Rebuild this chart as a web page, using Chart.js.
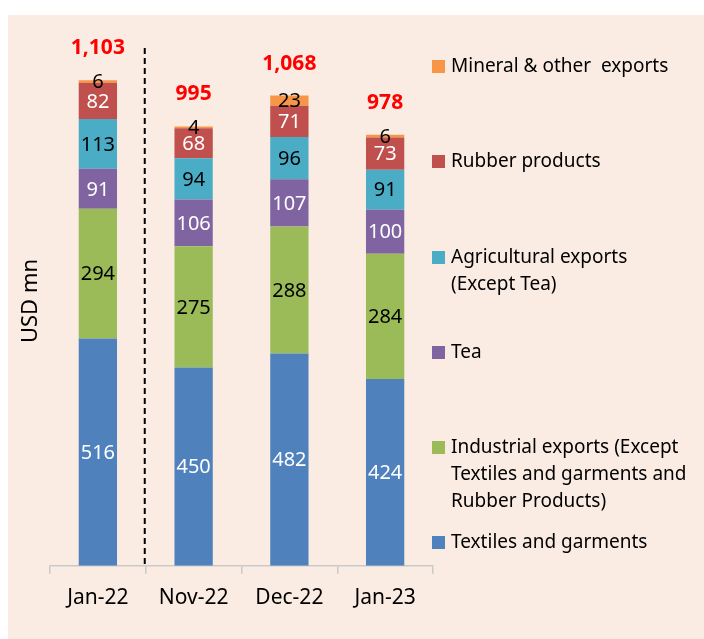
<!DOCTYPE html>
<html>
<head>
<meta charset="utf-8">
<script src="https://cdn.jsdelivr.net/npm/chart.js@4/dist/chart.umd.min.js"></script>
<style>
  html, body { margin: 0; padding: 0; background: #ffffff; overflow: hidden; }
  #wrap { position: relative; width: 704px; height: 639px; }
  canvas { display: block; }
</style>
</head>
<body>
<div id="wrap"><canvas id="c" width="704" height="639"></canvas></div>
<script>
// ---- data ----
const categories = ["Jan-22", "Nov-22", "Dec-22", "Jan-23"];
const textiles    = [516, 450, 482, 424];
const industrial  = [294, 275, 288, 284];
const tea         = [91, 106, 107, 100];
const agricultural= [113, 94, 96, 91];
const rubber      = [82, 68, 71, 73];
const mineral     = [6, 4, 23, 6];
const totals      = [1103, 995, 1068, 978];
const seriesNames = [
  "Textiles and garments",
  "Industrial exports (Except\nTextiles and garments and\nRubber Products)",
  "Tea",
  "Agricultural exports\n(Except Tea)",
  "Rubber products",
  "Mineral & other  exports"
];

// ---- styles ----
const colors = ["#4F81BD", "#9BBB59", "#8064A2", "#4BACC6", "#C0504D", "#F79646"];
const labelColors = ["#ffffff", "#000000", "#ffffff", "#000000", "#ffffff", "#000000"];
const legendY = [542, 447, 352, 257, 161, 66]; // first-line centre of each legend entry
const FONT = "'Noto Sans', 'Open Sans', sans-serif";

const seriesData = [textiles, industrial, tea, agricultural, rubber, mineral];

const datasets = seriesData.map((d, i) => ({
  label: seriesNames[i],
  data: d,
  backgroundColor: colors[i],
  borderWidth: 0,
  barPercentage: 0.4,
  categoryPercentage: 1.0
}));

const bgPlugin = {
  id: "bg",
  beforeDraw(chart) {
    const ctx = chart.ctx;
    ctx.save();
    ctx.fillStyle = "#ffffff";
    ctx.fillRect(0, 0, chart.width, chart.height);
    ctx.fillStyle = "#FBECE3";
    ctx.fillRect(8, 15, chart.width - 8, chart.height - 15);
    ctx.restore();
  }
};

const labelPlugin = {
  id: "labels",
  afterDatasetsDraw(chart) {
    const ctx = chart.ctx;
    ctx.save();
    ctx.textAlign = "center";
    ctx.textBaseline = "middle";
    // segment labels
    chart.data.datasets.forEach((ds, di) => {
      const meta = chart.getDatasetMeta(di);
      meta.data.forEach((bar, j) => {
        const yc = (bar.y + bar.base) / 2;
        ctx.font = "20px " + FONT;
        ctx.fillStyle = labelColors[di];
        ctx.fillText(String(ds.data[j]), bar.x, yc + 1);
      });
    });
    // totals
    const top = chart.getDatasetMeta(chart.data.datasets.length - 1);
    top.data.forEach((bar, j) => {
      ctx.font = "bold 21px " + FONT;
      ctx.fillStyle = "#FF0000";
      ctx.fillText(totals[j].toLocaleString("en-US"), bar.x, bar.y - 32);
    });
    // dashed separator between Jan-22 and Nov-22
    const xs = chart.scales.x;
    const xSep = xs.getPixelForValue(0.5) - 1;
    ctx.beginPath();
    ctx.setLineDash([6, 4]);
    ctx.lineWidth = 2;
    ctx.strokeStyle = "#000000";
    ctx.moveTo(xSep, 48);
    ctx.lineTo(xSep, chart.chartArea.bottom);
    ctx.stroke();
    ctx.setLineDash([]);
    // y-axis title
    ctx.save();
    ctx.translate(31, 301);
    ctx.rotate(-Math.PI / 2);
    ctx.font = "22px " + FONT;
    ctx.fillStyle = "#000000";
    ctx.fillText("USD mn", 0, 0);
    ctx.restore();
    // legend
    ctx.textAlign = "left";
    chart.data.datasets.forEach((ds, di) => {
      const y = legendY[di];
      ctx.fillStyle = colors[di];
      ctx.fillRect(432, y - 6, 13, 13);
      ctx.fillStyle = "#000000";
      ctx.font = "19px " + FONT;
      ds.label.split("\n").forEach((line, k) => {
        ctx.fillText(line, 451, y + k * 27 + 1);
      });
    });
    ctx.restore();
  }
};

new Chart(document.getElementById("c"), {
  type: "bar",
  data: { labels: categories, datasets: datasets },
  options: {
    responsive: false,
    animation: false,
    layout: { padding: { left: 50, right: 271, top: 37, bottom: 16 } },
    plugins: { legend: { display: false }, tooltip: { enabled: false } },
    scales: {
      x: {
        stacked: true,
        grid: { offset: true, drawOnChartArea: false, drawTicks: true, tickLength: 8, color: "#C9C9C9", lineWidth: 1.5 },
        border: { display: true, color: "#C9C9C9", width: 1.5 },
        ticks: { color: "#000000", font: { family: FONT, size: 21 }, padding: 12 }
      },
      y: {
        stacked: true,
        display: false,
        min: 0,
        max: 1200
      }
    }
  },
  plugins: [bgPlugin, labelPlugin]
});
</script>
</body>
</html>
